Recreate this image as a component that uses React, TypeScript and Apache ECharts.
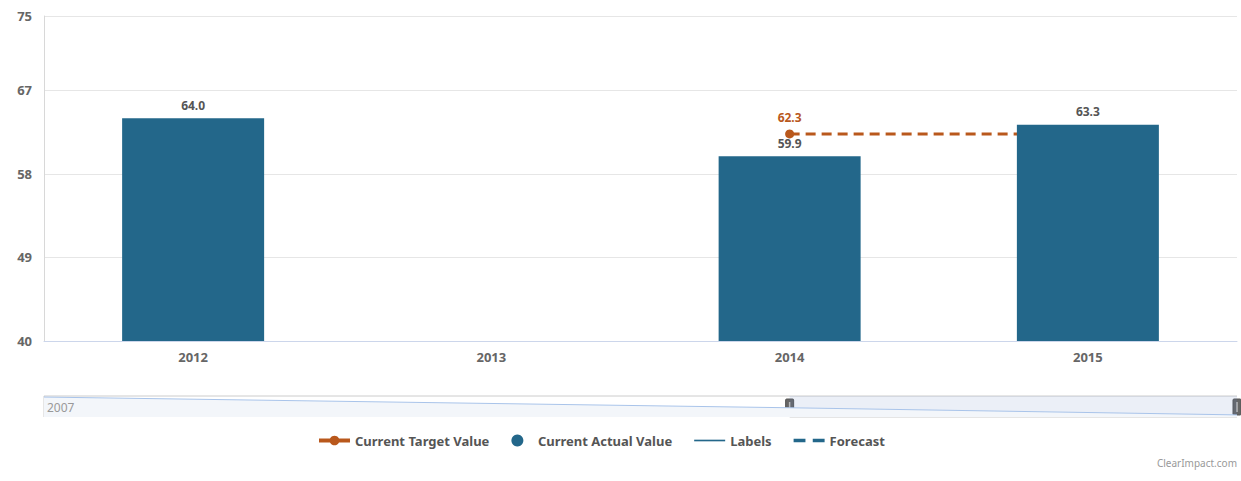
import React, { useEffect, useRef } from "react";
import * as echarts from "echarts";

const categories = ["2012", "2013", "2014", "2015"];
const actualValues: (number | null)[] = [64.0, null, 59.9, 63.3];
const targetValues: (number | null)[] = [null, null, 62.3, 62.3];
const yMin = 40;
const yMax = 75;
const yInterval = 9;

const navYears = [2007, 2012, 2015];
const navValues = [95, 44, 10];
const navRange = [2012, 2015];

const BLUE = "#23678a";
const ORANGE = "#b9581c";
const FONT = "Noto Sans";

export default function App() {
  const ref = useRef<HTMLDivElement>(null);

  useEffect(() => {
    document.body.style.margin = "0";
    if (!ref.current) return;
    const chart = echarts.init(ref.current, undefined, { renderer: "svg" });

    const option: any = {
      animation: false,
      backgroundColor: "#ffffff",
      textStyle: { fontFamily: FONT },
      grid: [
        { left: 44, right: 4, top: 16, bottom: 140, containLabel: false },
        { left: 44, right: 4, top: 396, height: 21, containLabel: false },
      ],
      xAxis: [
        {
          type: "category",
          gridIndex: 0,
          data: categories,
          axisLine: { lineStyle: { color: "#ccd6eb", width: 1 } },
          axisTick: { show: false },
          axisLabel: { color: "#666666", fontWeight: "bold", fontSize: 13, margin: 9, fontFamily: FONT },
          splitLine: { show: false },
        },
        {
          type: "value",
          gridIndex: 1,
          min: navYears[0],
          max: navYears[navYears.length - 1],
          show: false,
        },
      ],
      yAxis: [
        {
          type: "value",
          gridIndex: 0,
          min: yMin,
          max: yMax,
          interval: yInterval,
          axisLine: { show: true, lineStyle: { color: "#d8d8d8" } },
          axisTick: { show: false },
          axisLabel: { color: "#666666", fontWeight: "bold", fontSize: 13, margin: 12, fontFamily: FONT },
          splitLine: { lineStyle: { color: "#e6e6e6" } },
        },
        { type: "value", gridIndex: 1, min: 0, max: 100, show: false },
      ],
      legend: {
        left: 317,
        top: 434,
        padding: 0,
        itemWidth: 31,
        itemHeight: 12,
        itemGap: 22,
        textStyle: { color: "#555555", fontWeight: "bold", fontSize: 13, fontFamily: FONT },
        data: [
          { name: "Current Target Value", lineStyle: { type: "solid", width: 4 } },
          { name: "Current Actual Value", icon: "circle" },
          { name: "Labels", icon: "path://M0,0 L30,0 L30,1.6 L0,1.6 Z" },
          { name: "Forecast", icon: "path://M0,0 L13,0 L13,4 L0,4 Z M21,0 L34,0 L34,4 L21,4 Z" },
        ],
      },
      series: [
        {
          name: "Current Target Value",
          type: "line",
          xAxisIndex: 0,
          yAxisIndex: 0,
          z: 1,
          data: targetValues.map((v, i) =>
            v == null
              ? null
              : i === targetValues.findIndex((x) => x != null)
              ? { value: v }
              : { value: v, symbol: "none", label: { show: false } }
          ),
          connectNulls: false,
          symbol: "circle",
          symbolSize: 9,
          showSymbol: true,
          color: ORANGE,
          lineStyle: { color: ORANGE, width: 3, type: [10, 6] },
          itemStyle: { color: ORANGE },
          label: {
            show: true,
            position: "top",
            distance: 6,
            color: ORANGE,
            fontWeight: "bold",
            fontSize: 12,
            fontFamily: FONT,
            formatter: (p: any) => Number(p.value).toFixed(1),
          },
        },
        {
          name: "Current Actual Value",
          type: "bar",
          xAxisIndex: 0,
          yAxisIndex: 0,
          z: 2,
          barWidth: 142,
          data: actualValues,
          color: BLUE,
          itemStyle: { color: BLUE },
          label: {
            show: true,
            position: "top",
            distance: 7,
            color: "#555555",
            fontWeight: "bold",
            fontSize: 12,
            fontFamily: FONT,
            formatter: (p: any) => Number(p.value).toFixed(1),
          },
        },
        {
          name: "Labels",
          type: "line",
          xAxisIndex: 0,
          yAxisIndex: 0,
          data: [],
          symbol: "none",
          color: BLUE,
          itemStyle: { color: BLUE },
          lineStyle: { color: BLUE, width: 1.5 },
        },
        {
          name: "Forecast",
          type: "line",
          xAxisIndex: 0,
          yAxisIndex: 0,
          data: [],
          symbol: "none",
          color: BLUE,
          itemStyle: { color: BLUE },
          lineStyle: { color: BLUE, width: 4, type: [13, 8] },
        },
        {
          name: "navigator",
          type: "line",
          xAxisIndex: 1,
          yAxisIndex: 1,
          data: navYears.map((y, i) => [y, navValues[i]]),
          symbol: "none",
          silent: true,
          lineStyle: { color: "#a9c4ea", width: 1 },
          areaStyle: { color: "#f3f6fa", opacity: 1 },
          markArea: {
            silent: true,
            itemStyle: { color: "rgba(102,133,194,0.13)" },
            data: [[{ xAxis: navRange[0] }, { xAxis: navRange[1] }]],
          },
        },
      ],
    };
    chart.setOption(option);

    const p0 = chart.convertToPixel({ gridIndex: 1 }, [navYears[0], 100]) as number[];
    const pA = chart.convertToPixel({ gridIndex: 1 }, [navRange[0], 0]) as number[];
    const pB = chart.convertToPixel({ gridIndex: 1 }, [navRange[1], 0]) as number[];
    const top = p0[1];
    const bottom = pA[1];
    const handle = (x: number) => ({
      type: "group",
      children: [
        {
          type: "rect",
          shape: { x: x - 4, y: top + 3, width: 8, height: 16, r: 1 },
          style: { fill: "#666666", stroke: "#555555", lineWidth: 1 },
        },
        {
          type: "line",
          shape: { x1: x, y1: top + 6, x2: x, y2: top + 16 },
          style: { stroke: "#bbbbbb", lineWidth: 1.5 },
        },
      ],
    });
    chart.setOption({
      graphic: [
        {
          type: "line",
          shape: { x1: p0[0], y1: top, x2: pB[0], y2: top },
          style: { stroke: "#cccccc", lineWidth: 1 },
        },
        {
          type: "line",
          shape: { x1: p0[0], y1: top, x2: p0[0], y2: bottom },
          style: { stroke: "#cccccc", lineWidth: 1 },
        },
        {
          type: "line",
          shape: { x1: pA[0], y1: bottom, x2: pB[0], y2: bottom },
          style: { stroke: "#cccccc", lineWidth: 1 },
        },
        {
          type: "text",
          left: Math.round(p0[0] + 3),
          top: Math.round(top + 5),
          z: 100,
          style: { text: String(navYears[0]), fill: "#999999", fontSize: 12, fontFamily: FONT },
        },
        handle(pA[0]),
        handle(pB[0]),
        {
          type: "text",
          right: 4,
          top: 458,
          style: { text: "ClearImpact.com", fill: "#999999", fontSize: 10, fontFamily: FONT },
        },
      ],
    });

    return () => chart.dispose();
  }, []);

  return <div ref={ref} style={{ width: 1241, height: 481 }} />;
}
